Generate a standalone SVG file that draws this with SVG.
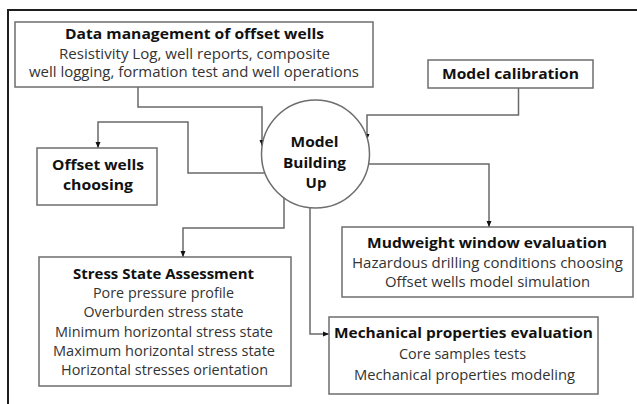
<svg xmlns="http://www.w3.org/2000/svg" width="637" height="404" viewBox="0 0 637 404">
<style>
.box{fill:#fff;stroke:#6e6e6e;stroke-width:1.5}
.frame{fill:none;stroke:#1e1e1e;stroke-width:2}
.con{fill:none;stroke:#6a6a6a;stroke-width:1.5}
text{font-family:"Open Sans",Lato,"Liberation Sans",sans-serif;text-anchor:middle}
.t{font-size:15px;font-weight:bold;fill:#111}
.b{font-size:14px;fill:#333}
</style>
<defs>
<marker id="ah" markerWidth="6" markerHeight="6" refX="6" refY="3" orient="auto" markerUnits="userSpaceOnUse">
<path d="M0,0.5 L6,3 L0,5.5 Z" fill="#111"/>
</marker>
</defs>
<rect width="637" height="404" fill="#fff"/>
<path class="frame" d="M8,404 V10 H637"/>
<g id="connectors">
<path class="con" d="M138,87 V107 H262 V146" marker-end="url(#ah)"/>
<path class="con" d="M518.5,88 V115 H367 V140" marker-end="url(#ah)"/>
<path class="con" d="M265,173 H188 V122 H98 V148" marker-end="url(#ah)"/>
<path class="con" d="M368,164 H489 V227" marker-end="url(#ah)"/>
<path class="con" d="M284,198 V228 H183 V257" marker-end="url(#ah)"/>
<path class="con" d="M310,208 V334 H329" marker-end="url(#ah)"/>
</g>
<g id="data">
<rect class="box" x="15" y="22" width="358" height="65"/>
<text class="t" x="194.5" y="39" textLength="259" lengthAdjust="spacingAndGlyphs">Data management of offset wells</text>
<text class="b" x="194.5" y="59" textLength="271" lengthAdjust="spacingAndGlyphs">Resistivity Log, well reports, composite</text>
<text class="b" x="194" y="76.5" textLength="330" lengthAdjust="spacingAndGlyphs">well logging, formation test and well operations</text>
</g>
<g id="calibration">
<rect class="box" x="428" y="60" width="165" height="28"/>
<text class="t" x="510.5" y="79" textLength="137" lengthAdjust="spacingAndGlyphs">Model calibration</text>
</g>
<g id="model">
<circle class="box" cx="315.5" cy="154" r="54"/>
<text class="t" x="314.5" y="147" textLength="48" lengthAdjust="spacingAndGlyphs">Model</text>
<text class="t" x="314.5" y="168" textLength="63" lengthAdjust="spacingAndGlyphs">Building</text>
<text class="t" x="316" y="188">Up</text>
</g>
<g id="offset">
<rect class="box" x="37" y="148" width="120" height="57"/>
<text class="t" x="98" y="170" textLength="92" lengthAdjust="spacingAndGlyphs">Offset wells</text>
<text class="t" x="98" y="190" textLength="70" lengthAdjust="spacingAndGlyphs">choosing</text>
</g>
<g id="stress">
<rect class="box" x="39" y="257" width="252" height="129"/>
<text class="t" x="163.5" y="279" textLength="181" lengthAdjust="spacingAndGlyphs">Stress State Assessment</text>
<text class="b" x="163.5" y="298" textLength="141" lengthAdjust="spacingAndGlyphs">Pore pressure profile</text>
<text class="b" x="163.5" y="317" textLength="160" lengthAdjust="spacingAndGlyphs">Overburden stress state</text>
<text class="b" x="164" y="336.5" textLength="218" lengthAdjust="spacingAndGlyphs">Minimum horizontal stress state</text>
<text class="b" x="164" y="356" textLength="222" lengthAdjust="spacingAndGlyphs">Maximum horizontal stress state</text>
<text class="b" x="164.5" y="375" textLength="207" lengthAdjust="spacingAndGlyphs">Horizontal stresses orientation</text>
</g>
<g id="mudweight">
<rect class="box" x="342" y="227" width="291" height="70"/>
<text class="t" x="487" y="248" textLength="240" lengthAdjust="spacingAndGlyphs">Mudweight window evaluation</text>
<text class="b" x="487.5" y="268" textLength="271" lengthAdjust="spacingAndGlyphs">Hazardous drilling conditions choosing</text>
<text class="b" x="487.5" y="287" textLength="205" lengthAdjust="spacingAndGlyphs">Offset wells model simulation</text>
</g>
<g id="mechanical">
<rect class="box" x="329" y="317" width="269" height="77"/>
<text class="t" x="463.5" y="337.5" textLength="259" lengthAdjust="spacingAndGlyphs">Mechanical properties evaluation</text>
<text class="b" x="462.5" y="359" textLength="127" lengthAdjust="spacingAndGlyphs">Core samples tests</text>
<text class="b" x="464.5" y="380" textLength="221" lengthAdjust="spacingAndGlyphs">Mechanical properties modeling</text>
</g>
</svg>
